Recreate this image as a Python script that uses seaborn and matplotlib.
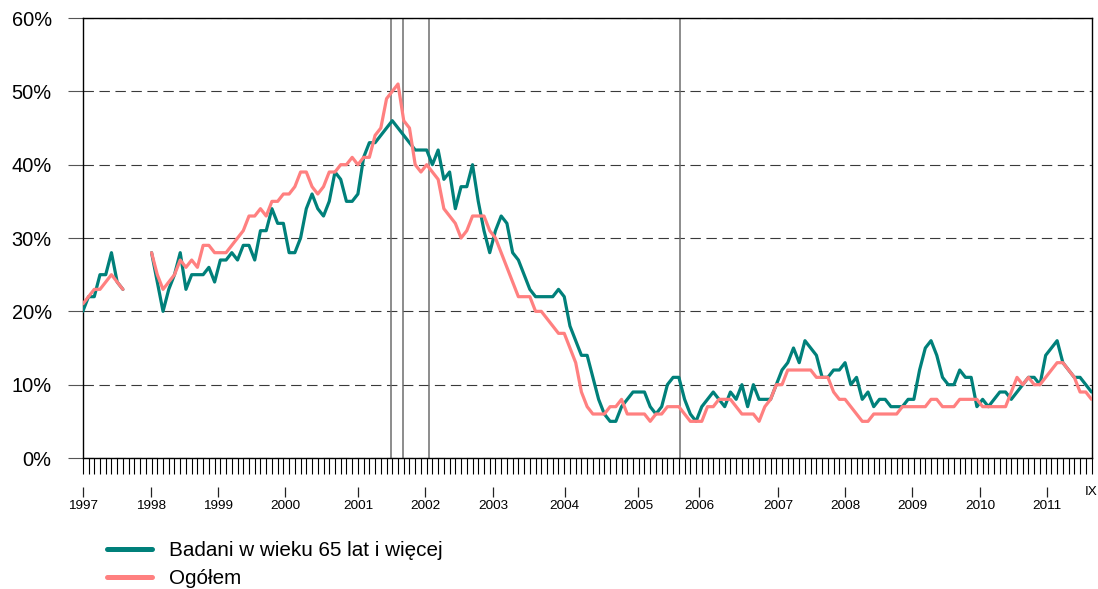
import numpy as np
import pandas as pd
import matplotlib
matplotlib.use("Agg")
import matplotlib.pyplot as plt
from matplotlib.lines import Line2D
import seaborn as sns

# ---------------- data (monthly, Jan 1997 .. Sep 2011) ----------------
nan = np.nan
months = list(range(177))

teal_label = "Badani w wieku 65 lat i więcej"
salmon_label = "Ogółem"

teal_values = [
    20, 22, 22, 25, 25, 28, 24, 23,
    nan, nan, nan, nan,
    28, 24, 20, 23, 25, 28, 23, 25,
    25, 25, 26, 24, 27, 27, 28, 27, 29, 29,
    27, 31, 31, 34, 32, 32, 28, 28, 30, 34,
    36, 34, 33, 35, 39, 38, 35, 35, 36, 41,
    43, 43, 44, 45, 46, 45, 44, 43, 42, 42,
    42, 40, 42, 38, 39, 34, 37, 37, 40, 35,
    31, 28, 31, 33, 32, 28, 27, 25, 23, 22,
    22, 22, 22, 23, 22, 18, 16, 14, 14, 11,
    8, 6, 5, 5, 7, 8, 9, 9, 9, 7,
    6, 7, 10, 11, 11, 8, 6, 5, 7, 8,
    9, 8, 7, 9, 8, 10, 7, 10, 8, 8,
    8, 10, 12, 13, 15, 13, 16, 15, 14, 11,
    11, 12, 12, 13, 10, 11, 8, 9, 7, 8,
    8, 7, 7, 7, 8, 8, 12, 15, 16, 14,
    11, 10, 10, 12, 11, 11, 7, 8, 7, 8,
    9, 9, 8, 9, 10, 11, 11, 10, 14, 15,
    16, 13, 12, 11, 11, 10, 9,
]

salmon_values = [
    21, 22, 23, 23, 24, 25, 24, 23,
    nan, nan, nan, nan,
    28, 25, 23, 24, 25, 27, 26, 27,
    26, 29, 29, 28, 28, 28, 29, 30, 31, 33,
    33, 34, 33, 35, 35, 36, 36, 37, 39, 39,
    37, 36, 37, 39, 39, 40, 40, 41, 40, 41,
    41, 44, 45, 49, 50, 51, 46, 45, 40, 39,
    40, 39, 38, 34, 33, 32, 30, 31, 33, 33,
    33, 31, 30, 28, 26, 24, 22, 22, 22, 20,
    20, 19, 18, 17, 17, 15, 13, 9, 7, 6,
    6, 6, 7, 7, 8, 6, 6, 6, 6, 5,
    6, 6, 7, 7, 7, 6, 5, 5, 5, 7,
    7, 8, 8, 8, 7, 6, 6, 6, 5, 7,
    8, 10, 10, 12, 12, 12, 12, 12, 11, 11,
    11, 9, 8, 8, 7, 6, 5, 5, 6, 6,
    6, 6, 6, 7, 7, 7, 7, 7, 8, 8,
    7, 7, 7, 8, 8, 8, 8, 7, 7, 7,
    7, 7, 9, 11, 10, 11, 10, 10, 11, 12,
    13, 13, 12, 11, 9, 9, 8,
]

year_labels = ["1997", "1998", "1999", "2000", "2001", "2002", "2003", "2004",
               "2005", "2006", "2007", "2008", "2009", "2010", "2011"]
year_label_pos = [0.0, 11.9, 23.6, 35.3, 48.0, 59.7, 71.6, 84.1,
                  96.9, 107.5, 121.3, 133.0, 144.7, 156.6, 168.2]
end_label = "IX"
event_months = [53.7, 55.8, 60.35, 104.25]
y_ticks = [0, 10, 20, 30, 40, 50, 60]

teal_color = "#00807A"
salmon_color = "#FF8080"

# ---------------- build long table ----------------
frames = []
for name, vals in [(teal_label, teal_values), (salmon_label, salmon_values)]:
    s = pd.Series(vals, dtype=float)
    seg = s.isna().cumsum()
    d = pd.DataFrame({"month": months, "value": s, "series": name, "segment": seg})
    frames.append(d.dropna())
df = pd.concat(frames, ignore_index=True)

# ---------------- style ----------------
sns.set_style("white")
plt.rcParams["font.family"] = ["Liberation Sans", "DejaVu Sans"]
plt.rcParams["lines.scale_dashes"] = False
plt.rcParams["text.color"] = "black"

fig = plt.figure(figsize=(10.98, 5.89), dpi=100)
ax = fig.add_axes([0.0754, 0.2224, 0.9187, 0.7470])

for m in event_months:
    ax.axvline(m, color="#6e6e6e", lw=1.1, zorder=1)

sns.lineplot(data=df, x="month", y="value", hue="series", units="segment",
             estimator=None, hue_order=[teal_label, salmon_label],
             palette={teal_label: teal_color, salmon_label: salmon_color},
             linewidth=2.3, legend=False, ax=ax, zorder=3)

ax.set_xlim(0, 176)
ax.set_ylim(0, 60)
ax.set_xlabel("")
ax.set_ylabel("")

# grid
ax.set_yticks(y_ticks)
ax.set_yticklabels([f"{v}%" for v in y_ticks])
ax.yaxis.grid(True, color="#3a3a3a", lw=0.8, linestyle=(0, (7.5, 4.0)))
ax.xaxis.grid(False)
ax.set_axisbelow(True)

for sp in ax.spines.values():
    sp.set_visible(True)
    sp.set_color("black")
    sp.set_linewidth(1.0)

ax.tick_params(axis="y", which="major", length=11, width=0.8, color="#555555",
               pad=11.4, labelsize=14.4, labelcolor="black", left=True)

# x axis: monthly minor ticks, year labels
ax.xaxis.remove_overlapping_locs = False
ax.set_xticks(months, minor=True)
ax.set_xticks(year_label_pos)
ax.set_xticklabels(year_labels)
ax.tick_params(axis="x", which="minor", length=11.5, width=0.8, color="black",
               direction="out", bottom=True)
ax.tick_params(axis="x", which="major", length=0, pad=30, labelsize=9.7,
               labelcolor="black", bottom=True)

ax.vlines(year_label_pos, -0.066, -0.0886, transform=ax.get_xaxis_transform(),
          clip_on=False, color="#222222", lw=0.9)
ax.text(months[-1], -0.0775, end_label, transform=ax.get_xaxis_transform(),
        ha="center", va="center", fontsize=9.7, color="black")

handles = [Line2D([], [], color=teal_color, lw=3.6, solid_capstyle="round"),
           Line2D([], [], color=salmon_color, lw=3.6, solid_capstyle="round")]
leg = fig.legend(handles, [teal_label, salmon_label], loc="upper left",
                 bbox_to_anchor=(0.0975, 0.0815), frameon=False, fontsize=14.9,
                 handlelength=2.17, handletextpad=0.8, labelspacing=0.45,
                 borderpad=0, borderaxespad=0)
for t in leg.get_texts():
    t.set_color("black")

fig.savefig("out.png", dpi=100)
